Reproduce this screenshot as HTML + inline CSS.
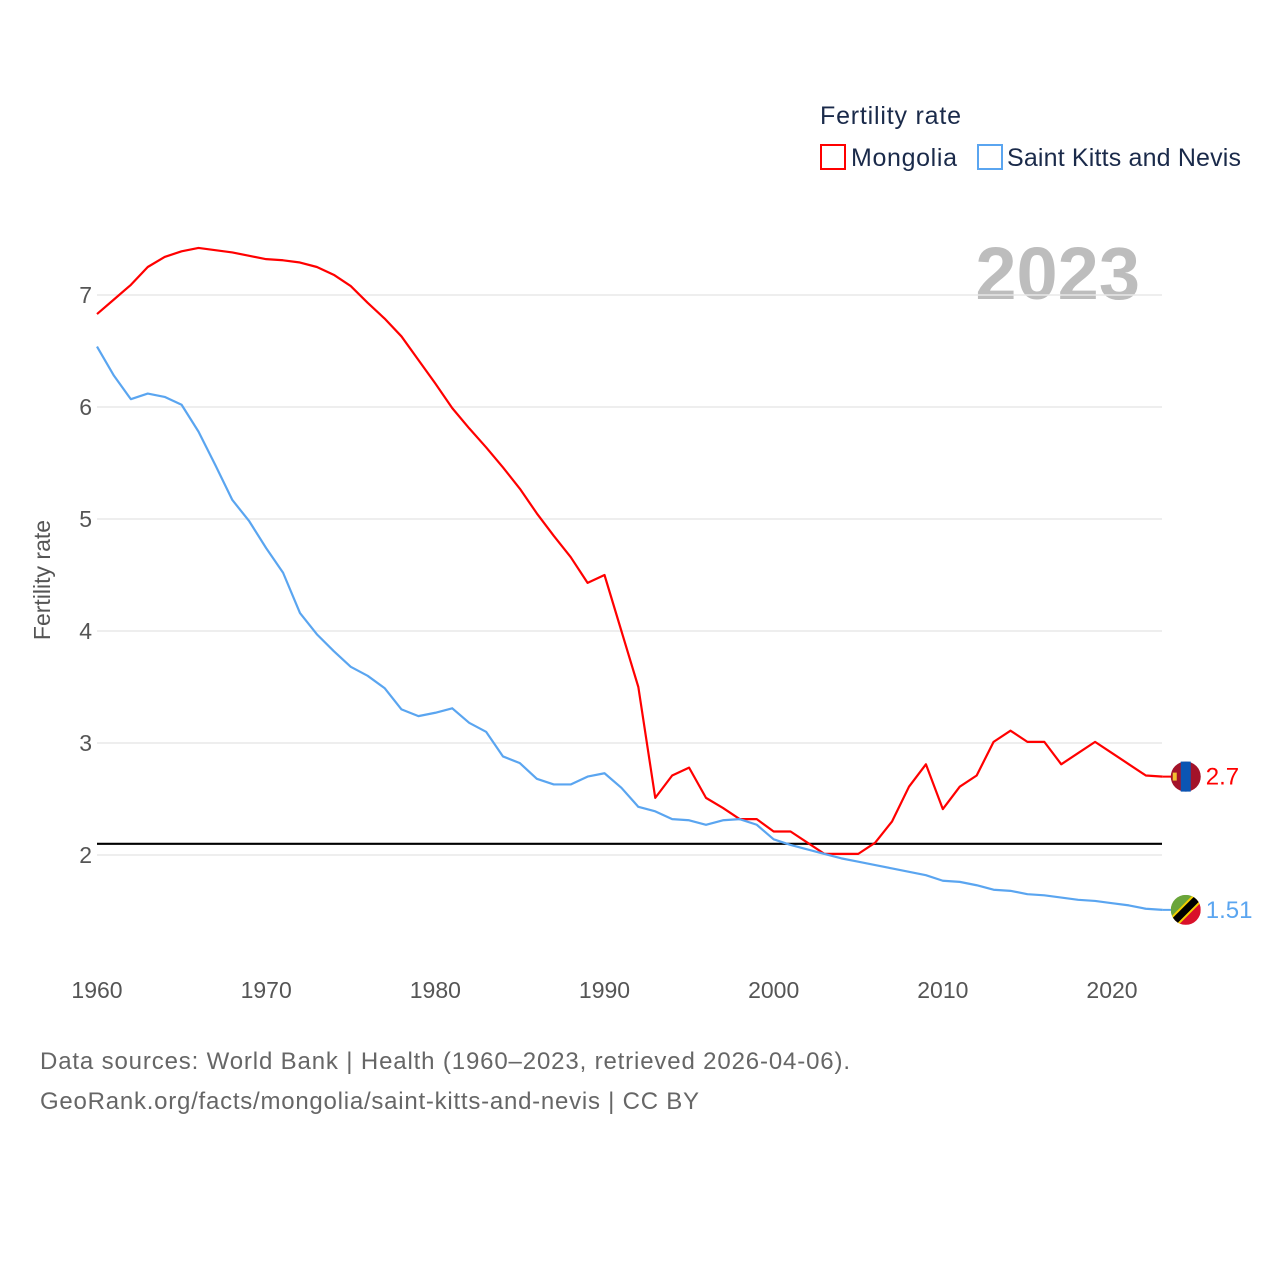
<!DOCTYPE html>
<html><head><meta charset="utf-8"><style>
body{margin:0;background:#fff;font-family:"Liberation Sans",sans-serif}
svg text{font-family:"Liberation Sans",sans-serif}
</style></head><body>
<svg id="chart" width="1280" height="1280" xmlns="http://www.w3.org/2000/svg">
<text x="820" y="124" font-size="25" fill="#1a2a4a" textLength="141">Fertility rate</text>
<g><rect x="821" y="145" width="24" height="24" fill="none" stroke="#ff0000" stroke-width="2"/><text x="851" y="166" font-size="25" fill="#1a2a4a" textLength="106">Mongolia</text></g>
<g><rect x="978" y="145" width="24" height="24" fill="none" stroke="#5aa5f0" stroke-width="2"/><text x="1007" y="166" font-size="25" fill="#1a2a4a" textLength="234">Saint Kitts and Nevis</text></g>
<text x="1140" y="299" font-size="74" font-weight="bold" fill="#bdbdbd" text-anchor="end">2023</text>
<g id="grid"></g><g id="yticks"></g><g id="xticks"></g>
<text transform="translate(50,580) rotate(-90)" font-size="23" fill="#555" text-anchor="middle">Fertility rate</text>
<g id="lines"></g>
<text x="40" y="1069" font-size="24" fill="#666" textLength="810">Data sources: World Bank | Health (1960–2023, retrieved 2026-04-06).</text>
<text x="40" y="1109" font-size="24" fill="#666" textLength="659">GeoRank.org/facts/mongolia/saint-kitts-and-nevis | CC BY</text>
</svg>
<script>
const years=[];for(let y=1960;y<=2023;y++)years.push(y);
const mongolia=[6.83,6.96,7.09,7.25,7.34,7.39,7.42,7.40,7.38,7.35,7.32,7.31,7.29,7.25,7.18,7.08,6.93,6.79,6.63,6.42,6.21,5.99,5.81,5.64,5.46,5.27,5.05,4.85,4.66,4.43,4.50,4.00,3.50,2.51,2.71,2.78,2.51,2.42,2.32,2.32,2.21,2.21,2.11,2.01,2.01,2.01,2.11,2.30,2.61,2.81,2.41,2.61,2.71,3.01,3.11,3.01,3.01,2.81,2.91,3.01,2.91,2.81,2.71,2.70];
const stkitts=[6.54,6.28,6.07,6.12,6.09,6.02,5.78,5.48,5.17,4.98,4.74,4.52,4.16,3.97,3.82,3.68,3.60,3.49,3.30,3.24,3.27,3.31,3.18,3.10,2.88,2.82,2.68,2.63,2.63,2.70,2.73,2.60,2.43,2.39,2.32,2.31,2.27,2.31,2.32,2.27,2.14,2.09,2.05,2.01,1.97,1.94,1.91,1.88,1.85,1.82,1.77,1.76,1.73,1.69,1.68,1.65,1.64,1.62,1.60,1.59,1.57,1.55,1.52,1.51];
const yTicks=[2,3,4,5,6,7];
const xTicks=[1960,1970,1980,1990,2000,2010,2020];
const replacement=2.1;
const X=y=>97+(y-1960)*(1112-97)/60;
const Y=v=>855-(v-2)*112;
const NS="http://www.w3.org/2000/svg";
function mk(t,a,p){const e=document.createElementNS(NS,t);for(const k in a)e.setAttribute(k,a[k]);p.appendChild(e);return e;}
const grid=document.getElementById('grid'),yt=document.getElementById('yticks'),xt=document.getElementById('xticks'),ln=document.getElementById('lines');
yTicks.forEach(v=>{
 const l=mk('line',{x1:97,x2:1162,y1:Y(v),y2:Y(v),stroke:'#e8e8e8','stroke-width':1.5},grid);
 
 
 const t=mk('text',{x:92,y:Y(v)+8,'font-size':23,fill:'#555','text-anchor':'end'},yt);t.textContent=v;
 
 
});
xTicks.forEach(v=>{
 const t=mk('text',{x:X(v),y:998,'font-size':23,fill:'#555','text-anchor':'middle'},xt);t.textContent=v;
 
 
});
const ref=mk('line',{x1:97,x2:1162,y1:Y(replacement),y2:Y(replacement),stroke:'#000','stroke-width':2.2},ln);


function series(d,c,name){
 const p=mk('polyline',{points:d.map((v,i)=>X(years[i])+','+Y(v)).join(' '),fill:'none',stroke:c,'stroke-width':2.2,'stroke-linejoin':'round'},ln);
 
 
 const last=d[d.length-1],cx=X(2023)+23,cy=Y(last);
 mk('line',{x1:X(2023),x2:cx,y1:cy,y2:cy,stroke:c,'stroke-width':2},ln);
 return [cx,cy,last];
}
const [mx,my,mv]=series(mongolia,'#ff0000','mongolia');
const [sx,sy,sv]=series(stkitts,'#5aa5f0','saint-kitts');
const g1=mk('g',{},ln);
mk('circle',{cx:mx,cy:my,r:15,fill:'#a3132a'},g1);
mk('rect',{x:mx-5,y:my-15,width:10,height:30,fill:'#0b55b3'},g1);
mk('rect',{x:mx-13,y:my-4,width:4,height:8,fill:'#f2c230'},g1);
const t1=mk('text',{x:mx+20,y:my+8,'font-size':24,fill:'#ff0000'},ln);t1.textContent=mv;

const g2=mk('g',{},ln);
mk('clipPath',{id:'cp'},g2);mk('circle',{cx:sx,cy:sy,r:15},document.getElementById('cp'));
const gc=mk('g',{'clip-path':'url(#cp)'},g2);
mk('polygon',{points:`${sx-15},${sy-15} ${sx+15},${sy-15} ${sx-15},${sy+15}`,fill:'#6aa53a'},gc);
mk('polygon',{points:`${sx+15},${sy-15} ${sx+15},${sy+15} ${sx-15},${sy+15}`,fill:'#d9102a'},gc);
mk('line',{x1:sx-15,y1:sy+15,x2:sx+15,y2:sy-15,stroke:'#f5d000','stroke-width':11},gc);
mk('line',{x1:sx-15,y1:sy+15,x2:sx+15,y2:sy-15,stroke:'#000','stroke-width':7},gc);
const t2=mk('text',{x:sx+20,y:sy+8,'font-size':24,fill:'#5aa5f0'},ln);t2.textContent=sv;

</script>
</body></html>
